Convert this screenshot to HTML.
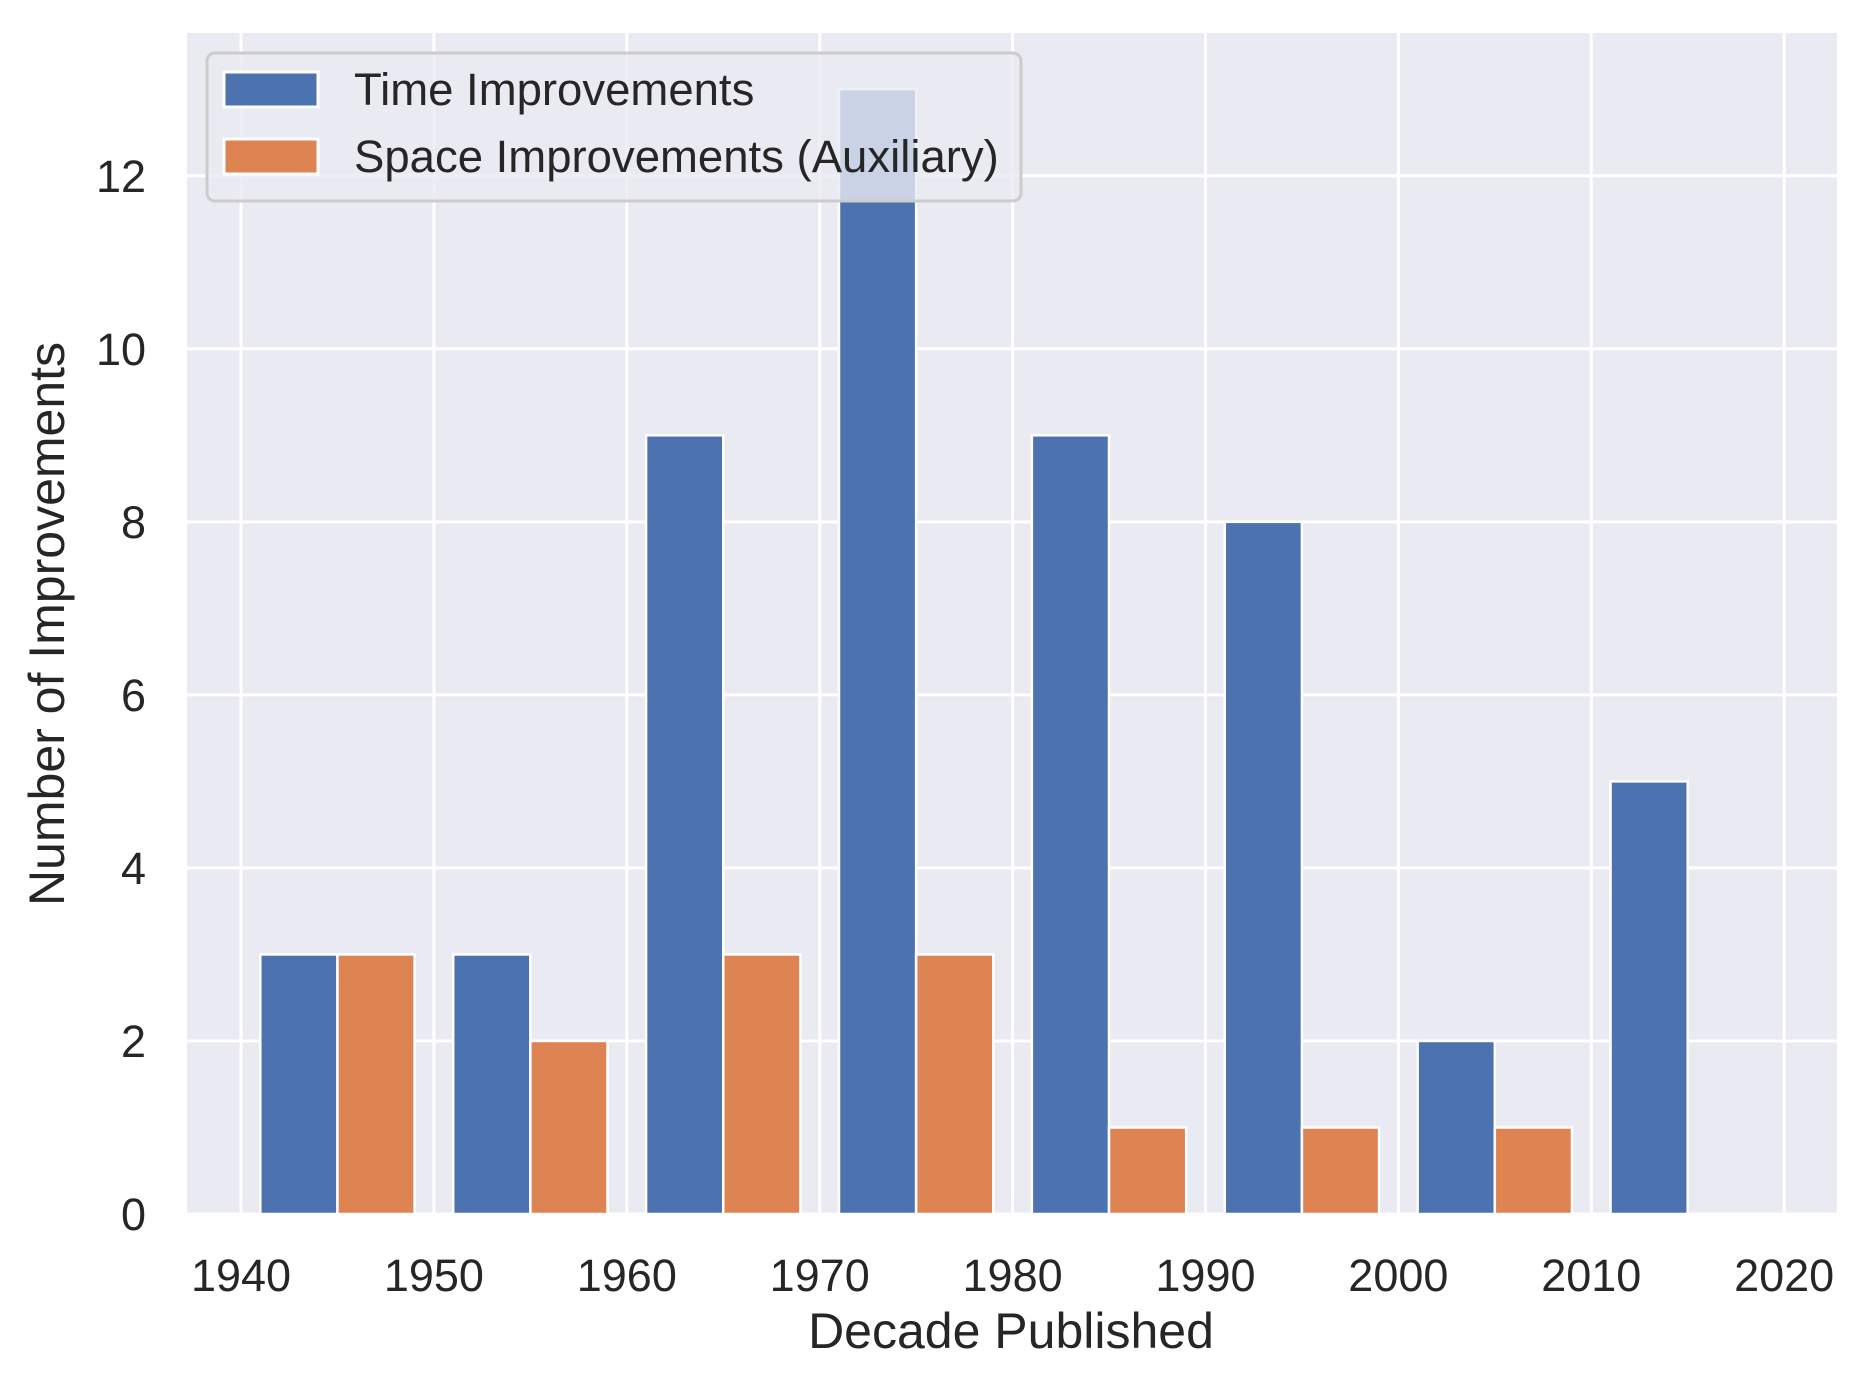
<!DOCTYPE html>
<html><head><meta charset="utf-8"><style>
html,body{margin:0;padding:0;background:#fff;}
svg{display:block;font-family:"Liberation Sans",Arial,sans-serif;}
</style></head><body>
<svg id="chart" width="1870" height="1391" viewBox="0 0 1870 1391">
<rect x="187" y="33" width="1650" height="1181" fill="#eaeaf2"/>
<g id="grid"></g><g id="bars"></g><g id="ticks"></g>
<text x="1011" y="1348" font-size="50" text-anchor="middle" fill="#262626">Decade Published</text>
<text transform="translate(64,624) rotate(-90)" font-size="50" text-anchor="middle" fill="#262626">Number of Improvements</text>
<g>
<rect x="207" y="53" width="814" height="148" rx="8" fill="#eaeaf2" fill-opacity="0.8" stroke="#cccccc" stroke-width="3"/>
<g>
<rect x="224" y="72" width="94" height="35" fill="#4c72b0" stroke="#fff" stroke-width="3"/>
<text x="354" y="105" font-size="45.5" fill="#262626">Time Improvements</text></g>
<g>
<rect x="224" y="139" width="94" height="35" fill="#dd8452" stroke="#fff" stroke-width="3"/>
<text x="354" y="172" font-size="45.5" fill="#262626">Space Improvements (Auxiliary)</text></g>
</g>
</svg>
<script>
const decades=[1940,1950,1960,1970,1980,1990,2000,2010];
const timeValues=[3,3,9,13,9,8,2,5];
const spaceValues=[3,2,3,3,1,1,1,0];
const xTicks=[1940,1950,1960,1970,1980,1990,2000,2010,2020];
const yTicks=[0,2,4,6,8,10,12];
const X0=187,X1=1837,Y0=1214,Y1=33,xmin=1937.2,xmax=2022.74,ymin=0,ymax=13.65;
const sx=v=>X0+(v-xmin)/(xmax-xmin)*(X1-X0);
const sy=v=>Y0-(v-ymin)/(ymax-ymin)*(Y0-Y1);
const NS="http://www.w3.org/2000/svg";
const grid=document.getElementById('grid'),bars=document.getElementById('bars'),ticks=document.getElementById('ticks');
function mk(tag,attrs,parent){const e=document.createElementNS(NS,tag);for(const k in attrs)e.setAttribute(k,attrs[k]);parent.appendChild(e);return e;}
xTicks.forEach(t=>{
 const l=mk('line',{x1:sx(t),x2:sx(t),y1:Y1,y2:Y0,stroke:'#fff','stroke-width':3},grid);
 
 
 const tx=mk('text',{x:sx(t),y:1291,'font-size':45,'text-anchor':'middle',fill:'#262626'},ticks);
 tx.textContent=t;
 
 
});
yTicks.forEach(t=>{
 const l=mk('line',{x1:X0,x2:X1,y1:sy(t),y2:sy(t),stroke:'#fff','stroke-width':3},grid);
 
 
 const tx=mk('text',{x:146,y:sy(t)+16,'font-size':45,'text-anchor':'end',fill:'#262626'},ticks);
 tx.textContent=t;
 
 
});
decades.forEach((d,i)=>{
 const b=mk('rect',{x:sx(d+1),y:sy(timeValues[i]),width:sx(d+5)-sx(d+1),height:sy(0)-sy(timeValues[i]),fill:'#4c72b0',stroke:'#fff','stroke-width':2.5},bars);
 
 
 if(spaceValues[i]>0){
 const o=mk('rect',{x:sx(d+5),y:sy(spaceValues[i]),width:sx(d+9)-sx(d+5),height:sy(0)-sy(spaceValues[i]),fill:'#dd8452',stroke:'#fff','stroke-width':2.5},bars);
 
 
 }
});
</script>
</body></html>
